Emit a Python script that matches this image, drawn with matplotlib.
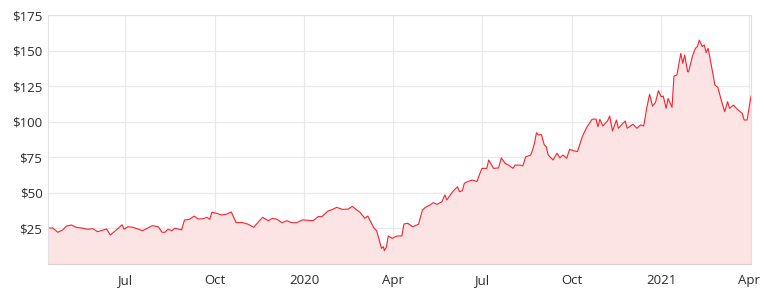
import matplotlib
matplotlib.use("Agg")
import matplotlib.pyplot as plt
import pandas as pd

dates = [
    "2019-04-13", "2019-04-18", "2019-04-23", "2019-04-28", "2019-05-02", "2019-05-07",
    "2019-05-12", "2019-05-19", "2019-05-24", "2019-05-29", "2019-06-03", "2019-06-12",
    "2019-06-16", "2019-06-22", "2019-06-28", "2019-06-30", "2019-07-04", "2019-07-09",
    "2019-07-19", "2019-07-29", "2019-08-04", "2019-08-08", "2019-08-11", "2019-08-14",
    "2019-08-18", "2019-08-21", "2019-08-28", "2019-08-31", "2019-09-05", "2019-09-10",
    "2019-09-14", "2019-09-19", "2019-09-23", "2019-09-26", "2019-09-28", "2019-10-03",
    "2019-10-08", "2019-10-13", "2019-10-18", "2019-10-23", "2019-10-29", "2019-11-04",
    "2019-11-10", "2019-11-15", "2019-11-19", "2019-11-25", "2019-11-29", "2019-12-04",
    "2019-12-09", "2019-12-14", "2019-12-19", "2019-12-24", "2019-12-30", "2020-01-10",
    "2020-01-15", "2020-01-19", "2020-01-25", "2020-01-30", "2020-02-03", "2020-02-09",
    "2020-02-15", "2020-02-19", "2020-02-24", "2020-02-27", "2020-03-03", "2020-03-06",
    "2020-03-09", "2020-03-12", "2020-03-15", "2020-03-17", "2020-03-20", "2020-03-22",
    "2020-03-23", "2020-03-25", "2020-03-27", "2020-03-31", "2020-04-05", "2020-04-10",
    "2020-04-12", "2020-04-16", "2020-04-21", "2020-04-27", "2020-05-01", "2020-05-04",
    "2020-05-09", "2020-05-12", "2020-05-16", "2020-05-21", "2020-05-24", "2020-05-26",
    "2020-06-01", "2020-06-06", "2020-06-08", "2020-06-11", "2020-06-13", "2020-06-16",
    "2020-06-21", "2020-06-26", "2020-06-29", "2020-07-01", "2020-07-06", "2020-07-08",
    "2020-07-13", "2020-07-18", "2020-07-21", "2020-07-25", "2020-07-28", "2020-08-02",
    "2020-08-04", "2020-08-09", "2020-08-12", "2020-08-15", "2020-08-20", "2020-08-22",
    "2020-08-24", "2020-08-26", "2020-08-28", "2020-08-31", "2020-09-03", "2020-09-05",
    "2020-09-07", "2020-09-12", "2020-09-16", "2020-09-19", "2020-09-22", "2020-09-26",
    "2020-09-29", "2020-10-03", "2020-10-07", "2020-10-12", "2020-10-16", "2020-10-22",
    "2020-10-26", "2020-10-28", "2020-10-30", "2020-11-02", "2020-11-07", "2020-11-09",
    "2020-11-12", "2020-11-16", "2020-11-18", "2020-11-25", "2020-11-27", "2020-12-03",
    "2020-12-07", "2020-12-11", "2020-12-14", "2020-12-17", "2020-12-20", "2020-12-23",
    "2020-12-26", "2020-12-29", "2021-01-01", "2021-01-03", "2021-01-06", "2021-01-08",
    "2021-01-12", "2021-01-14", "2021-01-17", "2021-01-21", "2021-01-23", "2021-01-25",
    "2021-01-28", "2021-01-29", "2021-02-02", "2021-02-05", "2021-02-07", "2021-02-09",
    "2021-02-12", "2021-02-14", "2021-02-16", "2021-02-18", "2021-02-20", "2021-02-25",
    "2021-02-28", "2021-03-03", "2021-03-07", "2021-03-10", "2021-03-12", "2021-03-16",
    "2021-03-20", "2021-03-25", "2021-03-27", "2021-03-30", "2021-04-03",
]

prices = [
    25.3, 25.3, 22.3, 23.9, 26.7, 27.4,
    25.8, 25.1, 24.4, 24.8, 22.7, 24.6,
    20.4, 23.9, 27.6, 24.4, 26.2, 25.8,
    23.4, 26.9, 26.2, 22.3, 22.3, 24.4,
    23.4, 25.1, 24.0, 30.9, 31.4, 33.7,
    31.6, 31.8, 32.8, 31.4, 36.3, 35.6,
    34.4, 35.0, 36.5, 29.0, 29.2, 28.0,
    25.8, 29.7, 32.8, 30.4, 32.1, 31.4,
    29.0, 30.4, 29.0, 29.0, 31.0, 30.4,
    33.3, 33.3, 37.2, 38.4, 39.8, 38.4,
    38.6, 40.5, 37.9, 36.3, 32.1, 33.7,
    29.7, 25.6, 23.4, 18.7, 11.0, 12.2,
    9.4, 11.7, 19.7, 18.0, 19.7, 19.7,
    28.1, 28.6, 26.2, 27.9, 37.9, 39.8,
    41.5, 43.1, 41.9, 43.8, 48.5, 45.0,
    50.8, 54.3, 50.8, 51.5, 56.7, 57.8,
    59.0, 58.0, 63.7, 67.2, 67.2, 73.1,
    67.2, 67.5, 74.5, 70.7, 69.6, 67.2,
    69.5, 69.5, 69.0, 75.4, 76.5, 80.1,
    85.0, 92.3, 90.7, 91.0, 83.6, 82.5,
    76.6, 73.1, 77.8, 74.5, 76.6, 74.3,
    80.6, 79.6, 79.0, 89.5, 95.4, 101.7,
    101.9, 96.5, 101.7, 97.0, 100.7, 104.0,
    93.5, 101.2, 95.4, 100.5, 95.4, 98.2,
    95.4, 97.8, 97.0, 109.4, 119.3, 111.0,
    113.4, 121.8, 117.5, 118.0, 109.4, 116.4,
    110.1, 132.1, 132.8, 148.0, 141.0, 146.9,
    135.1, 135.1, 146.2, 151.6, 152.8, 157.4,
    152.8, 154.0, 148.5, 151.6, 144.5, 125.8,
    124.1, 116.4, 107.0, 114.1, 109.4, 111.7,
    108.7, 105.9, 101.2, 101.2, 118.0,
]

y_ticks = [25, 50, 75, 100, 125, 150, 175]
x_tick_dates = ["2019-07-01", "2019-10-01", "2020-01-01", "2020-04-01",
                "2020-07-01", "2020-10-01", "2021-01-01", "2021-04-01"]
x_tick_labels = ["Jul", "Oct", "2020", "Apr", "Jul", "Oct", "2021", "Apr"]

plt.rcParams["font.family"] = ["Open Sans", "DejaVu Sans"]

x = pd.to_datetime(dates)
fig = plt.figure(figsize=(7.64, 2.97), dpi=100)
ax = fig.add_axes([48 / 764, 33 / 297, (751 - 48) / 764, (264 - 15) / 297])

ax.fill_between(x, prices, 0, color="#fde4e4", linewidth=0, zorder=1)
ax.plot(x, prices, color="#f5222d", linewidth=0.8, zorder=2)

ax.set_xlim(pd.Timestamp("2019-04-13"), pd.Timestamp("2021-04-03"))
ax.set_ylim(0, 175)

ax.set_yticks(y_ticks)
ax.set_yticklabels([f"${v}" for v in y_ticks])
ax.set_xticks(pd.to_datetime(x_tick_dates))
ax.set_xticklabels(x_tick_labels)

ax.grid(True, color="#e8e8e8", linewidth=0.8, zorder=0)
ax.set_axisbelow(True)
for s in ax.spines.values():
    s.set_color("#e0e0e0")
    s.set_linewidth(0.8)
ax.spines["bottom"].set_color("#d9cfcf")

ax.tick_params(axis="both", length=0, labelsize=9.5, colors="#2b2b2b")
ax.tick_params(axis="y", pad=4)
ax.tick_params(axis="x", pad=7)

fig.savefig("out.png", dpi=100)
